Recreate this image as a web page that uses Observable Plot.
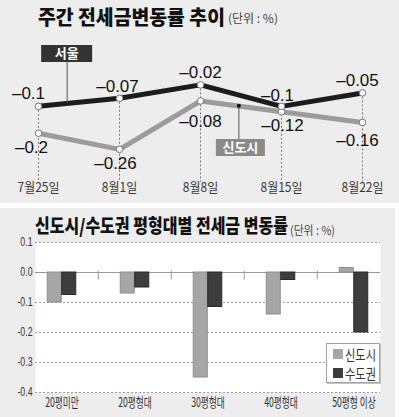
<!DOCTYPE html>
<html><head><meta charset="utf-8">
<script src="https://cdn.jsdelivr.net/npm/d3@7"></script>
<script src="https://cdn.jsdelivr.net/npm/@observablehq/plot@0.6"></script>
<style>
html,body{margin:0;padding:0;background:#fff;}
#wrap{position:relative;width:399px;height:417px;overflow:hidden;font-family:"Noto Sans CJK KR","Noto Sans",sans-serif;}
.panel{position:absolute;background:#ededed;}
.t{position:absolute;white-space:nowrap;line-height:1;transform-origin:0 50%;}
.chart{position:absolute;left:0;}
.chart svg{overflow:visible;display:block}
#legend{position:absolute;left:326px;top:343px;width:54px;height:40px;background:#fff;border:1px solid #a0a0a0;box-shadow:1px 1px 0 #c4c4c4;box-sizing:border-box}
.sw{position:absolute;left:6px;width:10px;height:10px;}
.lt{position:absolute;left:18px;font-size:14px;line-height:1;color:#333;white-space:nowrap;transform-origin:0 50%}
</style></head><body>
<div id="wrap">
 <div class="panel" style="left:0;top:0;width:399px;height:203px"></div>
 <div class="panel" style="left:0;top:208px;width:395px;height:209px"></div>
 <div id="topChart" class="chart" style="top:0"></div>
 <div id="botChart" class="chart" style="top:208px"></div>
 <span class="t" id="t1" style="left:38px;top:7px;font-size:20px;font-weight:900;color:#111">주간 전세금변동률 추이</span>
 <span class="t" id="u1" style="left:228px;top:12px;font-size:12px;color:#444">(단위 : %)</span>
 <span class="t" id="t2" style="left:35px;top:215px;font-size:19px;font-weight:900;color:#111">신도시/수도권 평형대별 전세금 변동률</span>
 <span class="t" id="u2" style="left:290px;top:224px;font-size:12px;color:#444">(단위 : %)</span>
 <div id="legend">
  <span class="sw" style="top:5px;background:#a6a6a6"></span><span class="lt" id="l1" style="top:3px">신도시</span>
  <span class="sw" style="top:24px;background:#3d3d3d"></span><span class="lt" id="l2" style="top:22px">수도권</span>
 </div>
</div>
<script>
// ---- data ----
const weeks = ["7월25일", "8월1일", "8월8일", "8월15일", "8월22일"];
const seoulRate = [-0.1, -0.07, -0.02, -0.1, -0.05];
const newTownRate = [-0.2, -0.26, -0.08, -0.12, -0.16];

const sizeClasses = ["20평미만", "20평형대", "30평형대", "40평형대", "50평형 이상"];
const newTownBySize = [-0.1, -0.07, -0.35, -0.14, 0.015];
const capitalBySize = [-0.075, -0.05, -0.115, -0.025, -0.2];
const yTicks = [0.1, 0, -0.1, -0.2, -0.3, -0.4];

// ---- top chart ----
const fmtLabel = v => "\u2013" + Math.abs(v);
const seoulRows = weeks.map((w, i) => ({week: w, v: seoulRate[i]}));
const townRows = weeks.map((w, i) => ({week: w, v: newTownRate[i]}));
const seoulNudge = [[-10, -13], [-2, -12], [0, -12], [-4, -11], [-5, -12]];
const townNudge = [[-7, 14], [-4, 14], [0, 21], [1, 14], [-5, 18]];
const labelStyle = {fontSize: 17, fill: "#111", fontFamily: "'Liberation Sans', Arial, sans-serif"};
const krFont = "'Noto Sans CJK KR', sans-serif";

const topChart = Plot.plot({
  width: 399, height: 203, marginLeft: 38, marginRight: 37, marginTop: 79, marginBottom: 30,
  style: {background: "transparent", fontFamily: "'Liberation Sans','Noto Sans CJK KR',sans-serif", overflow: "visible"},
  x: {type: "point", domain: weeks, padding: 0, label: null},
  y: {domain: [-0.35, 0], axis: null},
  marks: [
    Plot.ruleX(weeks.map((w, i) => ({week: w, v: Math.max(seoulRate[i], newTownRate[i])})),
      {x: "week", y1: "v", y2: -0.383, stroke: "#777", strokeWidth: 1, strokeDasharray: "2,2"}),
    Plot.line(townRows, {x: "week", y: "v", stroke: "#9c9c9c", strokeWidth: 5}),
    Plot.line(seoulRows, {x: "week", y: "v", stroke: "#1c1c1c", strokeWidth: 5}),
    Plot.dot([...townRows, ...seoulRows], {x: "week", y: "v", r: 3.3, fill: "white", stroke: "#777", strokeWidth: 1}),
    ...seoulRows.map((d, i) => Plot.text([d], {x: "week", y: "v", text: r => fmtLabel(r.v), dx: seoulNudge[i][0], dy: seoulNudge[i][1], ...labelStyle})),
    ...townRows.map((d, i) => Plot.text([d], {x: "week", y: "v", text: r => fmtLabel(r.v), dx: townNudge[i][0], dy: townNudge[i][1], ...labelStyle})),
    Plot.axisX({tickSize: 0, tickPadding: 9, fontSize: 13, fill: "#3a3a3a", fontFamily: krFont, label: null})
  ]
});
document.getElementById("topChart").appendChild(topChart);

// annotation tags anchored to the lines through the scales
const xs = topChart.scale("x"), ys = topChart.scale("y");
function along(series, i, t) {
  const x0 = xs.apply(weeks[i]), x1 = xs.apply(weeks[i + 1]);
  const y0 = ys.apply(series[i]), y1 = ys.apply(series[i + 1]);
  return [x0 + (x1 - x0) * t, y0 + (y1 - y0) * t];
}
const ann = d3.select(topChart).append("g");
{
  const [sx, sy] = along(seoulRate, 0, 0.36);
  ann.append("line").attr("x1", sx).attr("x2", sx).attr("y1", 62).attr("y2", sy).attr("stroke", "#555");
  ann.append("rect").attr("x", sx - 26).attr("y", 45).attr("width", 51).attr("height", 17).attr("fill", "#333");
  ann.append("text").attr("x", sx - 0.5).attr("y", 53.5).attr("dy", "0.36em").attr("text-anchor", "middle")
    .attr("fill", "#fff").attr("font-size", 13).attr("font-weight", 700).attr("font-family", "Noto Sans CJK KR").text("서울");
}
{
  const [tx, ty] = along(newTownRate, 2, 0.48);
  ann.append("line").attr("x1", tx).attr("x2", tx).attr("y1", ty).attr("y2", 139).attr("stroke", "#555");
  ann.append("circle").attr("cx", tx).attr("cy", ty).attr("r", 2).attr("fill", "#111");
  ann.append("rect").attr("x", tx - 23).attr("y", 139).attr("width", 49).attr("height", 17).attr("fill", "#8a8a8a");
  ann.append("text").attr("x", tx + 1.5).attr("y", 147.5).attr("dy", "0.36em").attr("text-anchor", "middle")
    .attr("fill", "#fff").attr("font-size", 13).attr("font-weight", 700).attr("font-family", "Noto Sans CJK KR").text("신도시");
}

// ---- bottom chart ----
const botRows = sizeClasses.map((c, i) => ({c, town: newTownBySize[i], cap: capitalBySize[i]}));
const bx0 = 23.5, bx1 = 391;
const step = (bx1 - bx0) / sizeClasses.length;
const barW = 14.5;
const botChart = Plot.plot({
  width: 399, height: 209, marginLeft: 35, marginRight: 19, marginTop: 34, marginBottom: 25,
  style: {background: "transparent", fontFamily: "'Liberation Sans','Noto Sans CJK KR',sans-serif", overflow: "visible"},
  x: {type: "band", domain: sizeClasses, range: [bx0, bx1], padding: 0, label: null},
  y: {domain: [-0.4, 0.1], label: null},
  marks: [
    Plot.frame({fill: "white", stroke: "none"}),
    Plot.gridY(yTicks.filter(v => v !== 0), {stroke: "#9a9a9a", strokeOpacity: 1, strokeDasharray: "2,2"}),
    Plot.ruleY([0], {stroke: "#999"}),
    Plot.ruleX(sizeClasses.slice(1), {x: d => d, y1: 0.005, y2: -0.025, dx: -step / 2, stroke: "#999"}),
    Plot.barY(botRows, {x: "c", y: "town", fill: "#a6a6a6", stroke: "#8d8d8d", strokeWidth: 1, insetLeft: step / 2 - barW, insetRight: step / 2}),
    Plot.barY(botRows, {x: "c", y: "cap", fill: "#3d3d3d", stroke: "#2a2a2a", strokeWidth: 1, insetLeft: step / 2, insetRight: step / 2 - barW}),
    Plot.axisX({tickSize: 0, tickPadding: 5, fontSize: 13, fill: "#333", fontFamily: krFont, label: null}),
    Plot.axisY({ticks: yTicks, tickFormat: v => v.toFixed(1), tickSize: 0, tickPadding: 3, fontSize: 12, fill: "#333", label: null})
  ]
});
document.getElementById("botChart").appendChild(botChart);

// condensed-type look
function condense(svg, label, factor) {
  svg.querySelectorAll(`[aria-label="${label}"] text`).forEach(t => {
    const w = t.getComputedTextLength();
    t.setAttribute("textLength", (w * factor).toFixed(2));
    t.setAttribute("lengthAdjust", "spacingAndGlyphs");
  });
}
condense(botChart, "x-axis tick label", 0.67);
condense(botChart, "y-axis tick label", 0.73);
condense(topChart, "x-axis tick label", 0.92);

function fitWidth(id, target) {
  const el = document.getElementById(id);
  const w = el.getBoundingClientRect().width;
  el.style.transform = `scaleX(${target / w})`;
}
fitWidth("t1", 187); fitWidth("u1", 50);
fitWidth("t2", 253); fitWidth("u2", 45);
fitWidth("l1", 31); fitWidth("l2", 31);
</script>
</body></html>
